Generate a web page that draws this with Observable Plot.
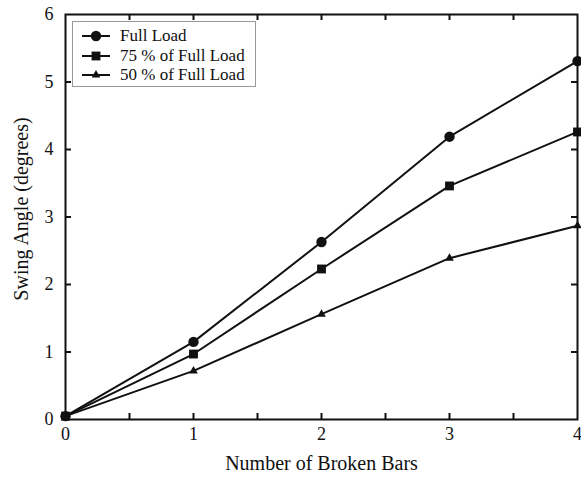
<!DOCTYPE html>
<html>
<head>
<meta charset="utf-8">
<script src="https://cdn.jsdelivr.net/npm/d3@7"></script>
<script src="https://cdn.jsdelivr.net/npm/@observablehq/plot@0.6"></script>
<style>
  html, body { margin: 0; padding: 0; background: #fff; }
  #chart { position: relative; width: 581px; height: 479px; font-family: "Liberation Serif", "Times New Roman", serif; }
  #legend { position: absolute; left: 72px; top: 21px; width: 182px; height: 64px; border: 1px solid #999; background: #fff; }
  #legend .row { position: absolute; left: 8px; height: 20px; display: flex; align-items: center; font-size: 17px; color: #111; white-space: nowrap; }
  #legend svg { flex: none; margin-right: 9px; }
</style>
</head>
<body>
<div id="chart"></div>
<script>
// Swing angle versus number of broken rotor bars, for three load levels
const brokenBars = [0, 1, 2, 3, 4];
const fullLoad = [0.05, 1.15, 2.63, 4.19, 5.31];
const load75 = [0.05, 0.97, 2.23, 3.46, 4.26];
const load50 = [0.05, 0.72, 1.56, 2.39, 2.87];
const seriesNames = ["Full Load", "75 % of Full Load", "50 % of Full Load"];
const seriesSymbols = ["circle", "square", "triangle"];
const seriesSizes = [5.2, 5, 3.2];

const xTickLabels = [0, 1, 2, 3, 4];
const xMinorTicks = [0.5, 1, 1.5, 2, 2.5, 3, 3.5];
const yTickLabels = [0, 1, 2, 3, 4, 5, 6];
const yMinorTicks = [1, 2, 3, 4, 5];
const xTitle = "Number of Broken Bars";
const yTitle = "Swing Angle (degrees)";

const seriesValues = [fullLoad, load75, load50];
const rows = seriesValues.flatMap((vals, s) =>
  brokenBars.map((b, i) => ({series: seriesNames[s], bars: b, angle: vals[i]}))
);

const W = 581, H = 479;
const mTop = 14, mBottom = 60, mLeft = 65, mRight = 4;
const innerH = H - mTop - mBottom;
const innerW = W - mLeft - mRight;
const tick = 6;

const chart = Plot.plot({
  width: W,
  height: H,
  marginTop: mTop,
  marginBottom: mBottom,
  marginLeft: mLeft,
  marginRight: mRight,
  style: {fontFamily: "Liberation Serif, Times New Roman, serif", fontSize: "18px", color: "#111", background: "#fff", overflow: "visible"},
  x: {domain: [0, 4]},
  y: {domain: [0, 6]},
  symbol: {domain: seriesNames, range: seriesSymbols},
  marks: [
    // inward ticks along all four sides
    Plot.ruleX(xMinorTicks, {x: d => d, insetTop: innerH - tick, stroke: "#111", strokeWidth: 2}),
    Plot.ruleX(xMinorTicks, {x: d => d, insetBottom: innerH - tick, stroke: "#111", strokeWidth: 2}),
    Plot.ruleY(yMinorTicks, {y: d => d, insetRight: innerW - tick, stroke: "#111", strokeWidth: 2}),
    Plot.ruleY(yMinorTicks, {y: d => d, insetLeft: innerW - tick, stroke: "#111", strokeWidth: 2}),
    Plot.axisX(xTickLabels, {tickSize: 0, tickPadding: 8, fontSize: 18, tickFormat: d3.format("d"), label: null}),
    Plot.axisY(yTickLabels, {tickSize: 0, tickPadding: 12, fontSize: 18, tickFormat: d3.format("d"), label: null}),
    // axis titles
    Plot.text([xTitle], {frameAnchor: "bottom", dy: 44, lineAnchor: "middle", textAnchor: "middle", fontSize: 20, fill: "#111"}),
    Plot.text([yTitle], {frameAnchor: "left", rotate: -90, dx: -44, dy: -8, lineAnchor: "middle", textAnchor: "middle", fontSize: 20, fill: "#111"}),
    Plot.line(rows, {x: "bars", y: "angle", z: "series", stroke: "#111", strokeWidth: 2}),
    ...seriesNames.map((name, s) =>
      Plot.dot(rows.filter(d => d.series === name), {
        x: "bars", y: "angle", symbol: "series", r: seriesSizes[s], fill: "#111", stroke: "none"
      })
    ),
    Plot.frame({stroke: "#111", strokeWidth: 2})
  ]
});

const root = document.getElementById("chart");
root.appendChild(chart);

// legend box in the upper-left corner of the plot
const legend = document.createElement("div");
legend.id = "legend";
seriesNames.forEach((name, s) => {
  const row = document.createElement("div");
  row.className = "row";
  row.style.top = (4 + s * 19.5) + "px";
  const sym = d3.symbol(
    {circle: d3.symbolCircle, square: d3.symbolSquare, triangle: d3.symbolTriangle}[seriesSymbols[s]],
    Math.PI * seriesSizes[s] * seriesSizes[s]
  )();
  row.innerHTML =
    `<svg width="30" height="14" viewBox="-15 -7 30 14">` +
    `<line x1="-14" x2="14" y1="0" y2="0" stroke="#111" stroke-width="2"/>` +
    `<path d="${sym}" fill="#111"/></svg><span>${name}</span>`;
  legend.appendChild(row);
});
root.appendChild(legend);
</script>
</body>
</html>
